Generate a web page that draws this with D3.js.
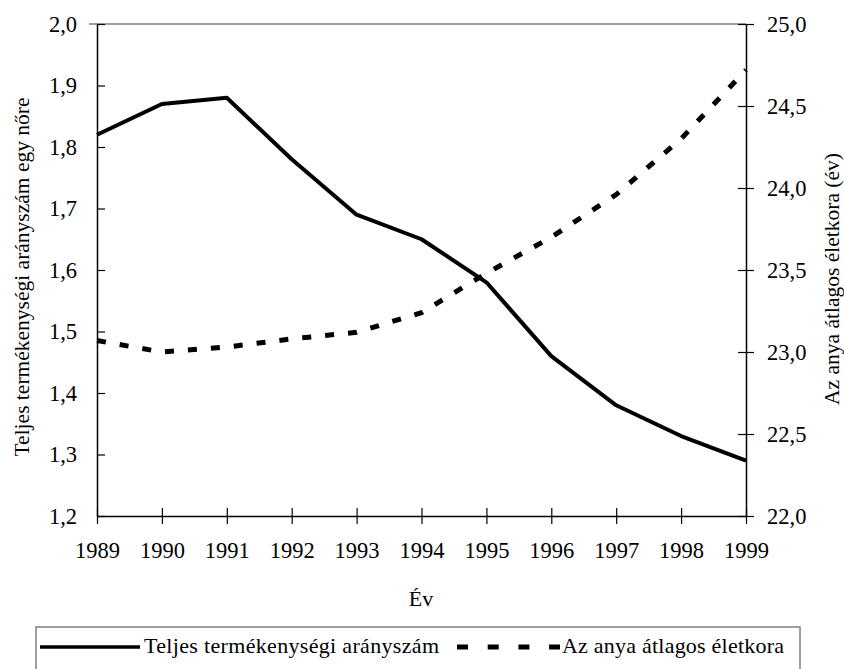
<!DOCTYPE html>
<html>
    <head>
        <script src="https://d3js.org/d3.v7.min.js"></script>
        <style type="text/css">
            html, body {
                margin: 0;
                padding: 0;
                background: #fff;
                overflow: hidden;
            }
        </style>
    </head>
    <body>
        <div id="chart"></div>
        <script>
            // data
            var years = [1989, 1990, 1991, 1992, 1993, 1994, 1995, 1996, 1997, 1998, 1999];
            var tfr = [1.82, 1.87, 1.88, 1.78, 1.69, 1.65, 1.58, 1.46, 1.38, 1.33, 1.29];
            var motherAge = [23.07, 23.00, 23.03, 23.08, 23.12, 23.24, 23.48, 23.70, 23.96, 24.30, 24.72];
            var leftTicks = [1.2, 1.3, 1.4, 1.5, 1.6, 1.7, 1.8, 1.9, 2.0];
            var rightTicks = [22.0, 22.5, 23.0, 23.5, 24.0, 24.5, 25.0];

            var W = 844, H = 669;
            var mLeft = 97, mRight = 746, mTop = 24, mBottom = 516;
            var FONT = "'Liberation Serif', 'Times New Roman', Tinos, serif";

            var svg = d3.select("#chart").append("svg")
                .attr("width", W)
                .attr("height", H)
                .style("font-family", FONT);

            var x = d3.scaleLinear().domain([1989, 1999]).range([mLeft, mRight]);
            var yL = d3.scaleLinear().domain([1.2, 2.0]).range([mBottom, mTop]);
            var yR = d3.scaleLinear().domain([22, 25]).range([mBottom, mTop]);

            var comma = function(d) { return d.toFixed(1).replace(".", ","); };

            // gray top border of plot area
            svg.append("line")
                .attr("x1", mLeft - 8).attr("x2", mRight)
                .attr("y1", mTop).attr("y2", mTop)
                .attr("stroke", "#808080").attr("stroke-width", 1.5);

            function styleAxis(g) {
                g.attr("font-family", null).attr("font-size", null);
                g.select(".domain").attr("stroke", "#000").attr("stroke-width", 1.5);
                g.selectAll(".tick line").attr("stroke", "#000").attr("stroke-width", 1.2);
                g.selectAll(".tick text")
                    .style("font-family", FONT)
                    .style("font-size", "22.5px");
            }

            // left axis, ticks crossing the axis line
            var gL = svg.append("g")
                .attr("transform", "translate(" + mLeft + ",0)")
                .call(d3.axisLeft(yL).tickValues(leftTicks).tickFormat(comma)
                    .tickSizeInner(8).tickSizeOuter(0));
            gL.selectAll(".tick line").attr("x2", 8);
            styleAxis(gL);
            gL.selectAll(".tick text").attr("x", -20);

            var gR = svg.append("g")
                .attr("transform", "translate(" + mRight + ",0)")
                .call(d3.axisRight(yR).tickValues(rightTicks).tickFormat(comma)
                    .tickSizeInner(8).tickSizeOuter(0));
            gR.selectAll(".tick line").attr("x2", 8).attr("x1", -8);
            styleAxis(gR);
            gR.selectAll(".tick text").attr("x", 21);

            var gX = svg.append("g")
                .attr("transform", "translate(0," + mBottom + ")")
                .call(d3.axisBottom(x).tickValues(years).tickFormat(d3.format("d"))
                    .tickSizeInner(8).tickSizeOuter(0));
            gX.selectAll(".tick line").attr("y1", -8).attr("y2", 8);
            styleAxis(gX);
            gX.selectAll(".tick text").attr("y", 26);

            // axis titles
            svg.append("text")
                .attr("transform", "translate(29,277) rotate(-90)")
                .attr("text-anchor", "middle")
                .style("font-size", "21.5px")
                .text("Teljes termékenységi arányszám egy nőre");

            svg.append("text")
                .attr("transform", "translate(839,279) rotate(-90)")
                .attr("text-anchor", "middle")
                .style("font-size", "21.5px")
                .text("Az anya átlagos életkora (év)");

            svg.append("text")
                .attr("x", 421)
                .attr("y", 606)
                .attr("text-anchor", "middle")
                .style("font-size", "22px")
                .text("Év");

            // series
            var lineL = d3.line()
                .x(function(d, i) { return x(years[i]); })
                .y(function(d) { return yL(d); });
            var lineR = d3.line()
                .x(function(d, i) { return x(years[i]); })
                .y(function(d) { return yR(d); });

            svg.append("path")
                .datum(motherAge)
                .attr("d", lineR)
                .attr("fill", "none")
                .attr("stroke", "#000")
                .attr("stroke-width", 5)
                .attr("stroke-dasharray", "9,14");

            svg.append("path")
                .datum(tfr)
                .attr("d", lineL)
                .attr("fill", "none")
                .attr("stroke", "#000")
                .attr("stroke-width", 4)
                .attr("stroke-linejoin", "round");

            // legend box (its bottom edge falls outside the picture)
            var lg = svg.append("g");
            lg.append("rect")
                .attr("x", 36).attr("y", 627)
                .attr("width", 764).attr("height", 50)
                .attr("fill", "none")
                .attr("stroke", "#808080").attr("stroke-width", 1.5);

            lg.append("line")
                .attr("x1", 40).attr("x2", 140)
                .attr("y1", 647).attr("y2", 647)
                .attr("stroke", "#000").attr("stroke-width", 3.5);
            lg.append("text")
                .attr("x", 144).attr("y", 653)
                .style("font-size", "22px")
                .attr("textLength", 295)
                .attr("lengthAdjust", "spacing")
                .text("Teljes termékenységi arányszám");

            lg.append("line")
                .attr("x1", 457).attr("x2", 560)
                .attr("y1", 647).attr("y2", 647)
                .attr("stroke", "#000").attr("stroke-width", 5)
                .attr("stroke-dasharray", "11,19.7");
            lg.append("text")
                .attr("x", 562).attr("y", 653)
                .style("font-size", "22px")
                .attr("textLength", 222)
                .attr("lengthAdjust", "spacing")
                .text("Az anya átlagos életkora");
        </script>
    </body>
</html>
